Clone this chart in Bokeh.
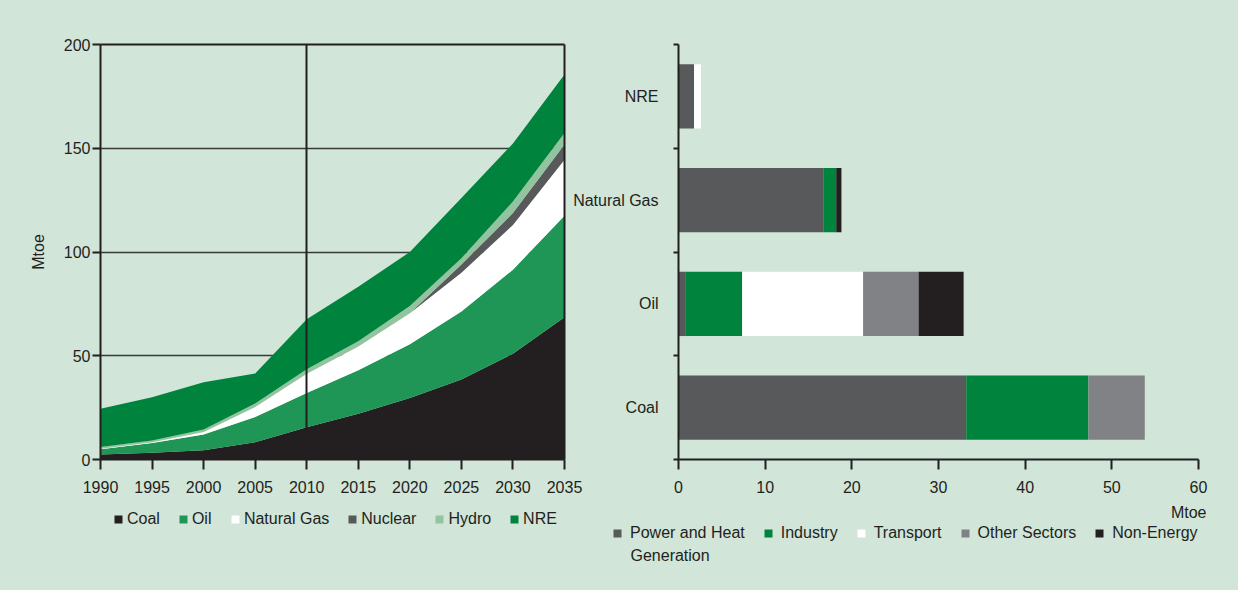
from bokeh.plotting import figure
from bokeh.layouts import row
from bokeh.models import (ColumnDataSource, Legend, LegendItem, FixedTicker,
                          Label, Range1d, LinearAxis)
from bokeh.embed import file_html
from bokeh.resources import INLINE

# ---------------- data: left chart (Mtoe, stacked areas) ----------------
years = [1990, 1995, 2000, 2005, 2010, 2015, 2020, 2025, 2030, 2035]
coal = [2.4, 3.2, 4.5, 8.3, 15.5, 22.0, 29.6, 38.5, 51.0, 68.6]
oil = [2.6, 4.8, 7.5, 12.2, 16.5, 21.0, 26.0, 32.8, 40.5, 48.9]
natural_gas = [0.2, 0.3, 1.3, 4.8, 9.3, 11.5, 14.9, 18.7, 21.5, 27.0]
nuclear = [0.0, 0.0, 0.0, 0.0, 0.0, 0.0, 0.0, 4.0, 5.8, 7.3]
hydro = [0.8, 0.9, 1.2, 1.7, 2.2, 2.5, 3.5, 3.0, 5.5, 5.6]
nre = [18.5, 20.8, 22.7, 14.5, 24.1, 26.3, 26.0, 29.0, 28.0, 28.1]
area_labels = ["Coal", "Oil", "Natural Gas", "Nuclear", "Hydro", "NRE"]
y_ticks_left = [0, 50, 100, 150, 200]
divider_year = 2010

# ---------------- data: right chart (Mtoe by sector, stacked bars) ----------------
fuels = ["Coal", "Oil", "Natural Gas", "NRE"]
power_heat = [33.2, 0.85, 16.7, 1.8]
industry = [14.1, 6.5, 1.5, 0.0]
transport = [0.0, 13.95, 0.0, 0.8]
other_sectors = [6.5, 6.4, 0.0, 0.0]
non_energy = [0.0, 5.2, 0.6, 0.0]
sector_labels = ["Power and Heat", "Industry", "Transport", "Other Sectors", "Non-Energy"]
sector_label_cont = "Generation"
x_ticks_right = [0, 10, 20, 30, 40, 50, 60]

# ---------------- style ----------------
BG = "#d1e5d8"
TXT = "#231f20"
GRID = "#3a3a3a"
FONT = "Liberation Sans"
area_colors = ["#231f20", "#1f9656", "#ffffff", "#58595b", "#93c4a0", "#00843d"]
bar_colors = ["#58595b", "#00843d", "#ffffff", "#808285", "#231f20"]

# layout geometry (pixels, figure coordinates)
FIG_H = 590
TOP = 44            # y pixel of the top of the value axis
AXIS_Y = 459        # y pixel of the value-0 baseline
PLOT_H = AXIS_Y - TOP

L_W, L_X0, L_X1 = 588, 100, 564      # left figure width, x pixels of first / last year
R_W, R_X0, R_X1 = 744, 184, 704      # right figure width, x pixels of 0 / 60


def style_axis(ax):
    ax.axis_line_color = TXT
    ax.axis_line_width = 2
    ax.major_tick_line_color = TXT
    ax.major_tick_line_width = 2
    ax.minor_tick_line_color = None
    ax.major_tick_in = 0
    ax.major_label_text_font = FONT
    ax.major_label_text_font_size = "16px"
    ax.major_label_text_color = TXT
    ax.axis_label_text_font = FONT
    ax.axis_label_text_font_size = "16px"
    ax.axis_label_text_color = TXT
    ax.axis_label_text_font_style = "normal"


def line_axis(loc, bounds, color=TXT, width=2, level="guide"):
    return LinearAxis(fixed_location=loc, bounds=bounds, ticker=FixedTicker(ticks=[]),
                      axis_line_color=color, axis_line_width=width, level=level,
                      major_tick_line_color=None, minor_tick_line_color=None)


def make_legend(items, location, spacing, standoff):
    return Legend(items=items, location=location, orientation="horizontal", spacing=spacing,
                  glyph_width=10, glyph_height=10, label_standoff=standoff, label_height=16,
                  label_text_font=FONT, label_text_font_size="16px", label_text_color=TXT,
                  background_fill_alpha=0, border_line_color=None, padding=0, margin=0)


# ---------------- left figure ----------------
y0, y1 = y_ticks_left[0], y_ticks_left[-1]
xl0, xl1 = years[0], years[-1]
ppu = PLOT_H / (y1 - y0)
ppx = (L_X1 - L_X0) / (xl1 - xl0)
src = ColumnDataSource(dict(year=years, coal=coal, oil=oil, gas=natural_gas,
                            nuclear=nuclear, hydro=hydro, nre=nre))
left = figure(width=L_W, height=FIG_H,
              x_range=Range1d(xl0 - L_X0 / ppx, xl1 + (L_W - L_X1) / ppx),
              y_range=Range1d(y0 - (FIG_H - AXIS_Y) / ppu, y1 + TOP / ppu),
              output_backend="svg", toolbar_location=None,
              min_border_left=0, min_border_right=0, min_border_top=0, min_border_bottom=0,
              background_fill_alpha=0, border_fill_alpha=0, outline_line_color=None)
left.xgrid.visible = False
left.ygrid.visible = False
# horizontal gridlines (under the areas), limited to the plotting box
for g in y_ticks_left[1:-1]:
    left.add_layout(line_axis(g, (xl0, xl1), GRID, 1.5, "underlay"), "below")

rs = left.varea_stack(stackers=["coal", "oil", "gas", "nuclear", "hydro", "nre"], x="year",
                      color=area_colors, source=src)

xa = left.xaxis[0]
style_axis(xa)
xa.fixed_location = y0
xa.bounds = (xl0, xl1)
xa.ticker = FixedTicker(ticks=years)
xa.major_tick_out = 10
xa.major_label_standoff = 11

ya = left.yaxis[0]
style_axis(ya)
ya.fixed_location = xl0
ya.bounds = (y0, y1)
ya.ticker = FixedTicker(ticks=y_ticks_left)
ya.major_tick_out = 8
ya.major_label_standoff = 2
ya.axis_label = "Mtoe"
ya.axis_label_standoff = 14

left.add_layout(line_axis(y1, (xl0, xl1)), "above")
left.add_layout(line_axis(xl1, (y0, y1)), "right")
left.add_layout(line_axis(divider_year, (y0, y1)), "right")

leg_l = make_legend([LegendItem(label=l, renderers=[r]) for l, r in zip(area_labels, rs)],
                    (113, 62), 18, 4)
left.add_layout(leg_l)

# ---------------- right figure ----------------
ypos = [i + 0.5 for i in range(len(fuels))]
xr0, xr1 = x_ticks_right[0], x_ticks_right[-1]
rpx = (R_X1 - R_X0) / (xr1 - xr0)
rpy = PLOT_H / len(fuels)
bsrc = ColumnDataSource(dict(y=ypos, power=power_heat, industry=industry, transport=transport,
                             other=other_sectors, nonen=non_energy))
right = figure(width=R_W, height=FIG_H,
               x_range=Range1d(xr0 - R_X0 / rpx, xr1 + (R_W - R_X1) / rpx),
               y_range=Range1d(-(FIG_H - AXIS_Y) / rpy, len(fuels) + TOP / rpy),
               output_backend="svg", toolbar_location=None,
               min_border_left=0, min_border_right=0, min_border_top=0, min_border_bottom=0,
               background_fill_alpha=0, border_fill_alpha=0, outline_line_color=None)
right.margin = (0, 0, 0, -94)
brs = right.hbar_stack(stackers=["power", "industry", "transport", "other", "nonen"], y="y",
                       height=0.62, color=bar_colors, line_color=None, source=bsrc)
right.xgrid.visible = False
right.ygrid.visible = False

rx = right.xaxis[0]
style_axis(rx)
rx.fixed_location = 0
rx.bounds = (xr0, xr1)
rx.ticker = FixedTicker(ticks=x_ticks_right)
rx.major_tick_out = 10
rx.major_label_standoff = 11

ry = right.yaxis[0]
style_axis(ry)
ry.fixed_location = xr0
ry.bounds = (0, len(fuels))
ry.ticker = FixedTicker(ticks=ypos, minor_ticks=list(range(len(fuels) + 1)))
ry.major_label_overrides = {p: f for p, f in zip(ypos, fuels)}
ry.major_tick_out = 0
ry.major_tick_line_color = None
ry.minor_tick_line_color = TXT
ry.minor_tick_line_width = 2
ry.minor_tick_out = 5
ry.minor_tick_in = 0
ry.major_label_standoff = 15

right.add_layout(Label(x=xr1, y=0, x_offset=8, y_offset=-53, text="Mtoe",
                       text_align="right", text_baseline="middle", text_font=FONT,
                       text_font_size="16px", text_color=TXT))

leg_r = make_legend([LegendItem(label=l, renderers=[r]) for l, r in zip(sector_labels, brs)],
                    (118, 48), 18, 8)
right.add_layout(leg_r)
right.add_layout(Label(x=136, y=35, x_units="screen", y_units="screen", text=sector_label_cont,
                       text_align="left", text_baseline="middle", text_font=FONT,
                       text_font_size="16px", text_color=TXT))

layout = row(left, right, styles={"background-color": BG})
open("out.html", "w").write(file_html(layout, INLINE))
